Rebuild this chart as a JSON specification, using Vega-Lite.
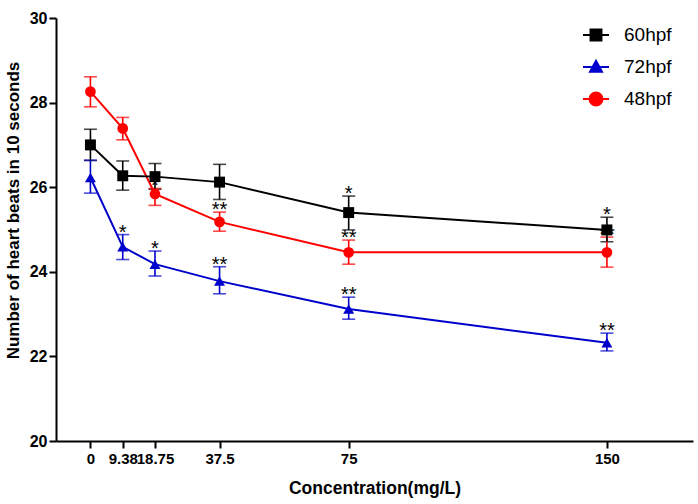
{
  "$schema": "https://vega.github.io/schema/vega-lite/v6.json",
  "width": 637,
  "height": 423,
  "autosize": {"type": "none"},
  "padding": {"left": 56, "top": 18, "right": 5, "bottom": 63},
  "background": "white",
  "data": {
    "values": [
      {"conc": 0, "group": "72hpf", "mean": 26.23, "lo": 25.86, "hi": 26.64, "sig": ""},
      {"conc": 9.38, "group": "72hpf", "mean": 24.59, "lo": 24.29, "hi": 24.88, "sig": "*"},
      {"conc": 18.75, "group": "72hpf", "mean": 24.18, "lo": 23.9, "hi": 24.49, "sig": "*"},
      {"conc": 37.5, "group": "72hpf", "mean": 23.78, "lo": 23.48, "hi": 24.12, "sig": "**"},
      {"conc": 75, "group": "72hpf", "mean": 23.12, "lo": 22.88, "hi": 23.4, "sig": "**"},
      {"conc": 150, "group": "72hpf", "mean": 22.32, "lo": 22.13, "hi": 22.55, "sig": "**"},
      {"conc": 0, "group": "48hpf", "mean": 28.26, "lo": 27.9, "hi": 28.61, "sig": ""},
      {"conc": 9.38, "group": "48hpf", "mean": 27.39, "lo": 27.12, "hi": 27.65, "sig": ""},
      {"conc": 18.75, "group": "48hpf", "mean": 25.84, "lo": 25.57, "hi": 25.97, "sig": "*"},
      {"conc": 37.5, "group": "48hpf", "mean": 25.18, "lo": 24.96, "hi": 25.41, "sig": "**"},
      {"conc": 75, "group": "48hpf", "mean": 24.46, "lo": 24.18, "hi": 24.75, "sig": "**"},
      {"conc": 150, "group": "48hpf", "mean": 24.46, "lo": 24.11, "hi": 24.82, "sig": "**"},
      {"conc": 0, "group": "60hpf", "mean": 27.0, "lo": 26.63, "hi": 27.37, "sig": ""},
      {"conc": 9.38, "group": "60hpf", "mean": 26.27, "lo": 25.93, "hi": 26.62, "sig": ""},
      {"conc": 18.75, "group": "60hpf", "mean": 26.25, "lo": 25.95, "hi": 26.56, "sig": ""},
      {"conc": 37.5, "group": "60hpf", "mean": 26.12, "lo": 25.71, "hi": 26.54, "sig": ""},
      {"conc": 75, "group": "60hpf", "mean": 25.4, "lo": 24.99, "hi": 25.79, "sig": "*"},
      {"conc": 150, "group": "60hpf", "mean": 24.99, "lo": 24.71, "hi": 25.29, "sig": "*"}
    ]
  },
  "encoding": {
    "x": {
      "field": "conc",
      "type": "quantitative",
      "title": "Concentration(mg/L)",
      "scale": {"domain": [-10, 175], "nice": false, "zero": false},
      "axis": {
        "values": [0, 9.38, 18.75, 37.5, 75, 150],
        "labelExpr": "'' + datum.value",
        "labelOverlap": false,
        "labelFontSize": 15,
        "labelPadding": 3,
        "titlePadding": 13,
        "titleFontSize": 17.5
      }
    }
  },
  "layer": [
    {
      "mark": {"type": "point", "filled": true, "opacity": 0},
      "encoding": {
        "y": {
          "field": "mean",
          "type": "quantitative",
          "title": "Number of heart beats in 10 seconds",
          "scale": {"domain": [20, 30], "nice": false, "zero": false},
          "axis": {
            "values": [20, 22, 24, 26, 28, 30],
            "labelPadding": 2,
            "titlePadding": 7,
            "titleFontSize": 17,
            "titleY": 192
          }
        },
        "fill": {
          "field": "group",
          "type": "nominal",
          "scale": {"domain": ["60hpf", "72hpf", "48hpf"], "range": ["#000000", "#0000cc", "#ff0000"]},
          "legend": {"title": null}
        },
        "stroke": {
          "field": "group",
          "type": "nominal",
          "scale": {"domain": ["60hpf", "72hpf", "48hpf"], "range": ["#000000", "#0000cc", "#ff0000"]},
          "legend": {"title": null}
        },
        "shape": {
          "field": "group",
          "type": "nominal",
          "scale": {
            "domain": ["60hpf", "72hpf", "48hpf"],
            "range": [
              "M-1,0H1M-0.42,-0.42H0.42V0.42H-0.42Z",
              "M-1,0H1M0,-0.48L0.46,0.36H-0.46Z",
              "M-1,0H1M-0.5,0A0.5,0.5 0 1,1 0.5,0A0.5,0.5 0 1,1 -0.5,0Z"
            ]
          },
          "legend": {"title": null}
        }
      }
    },
    {
      "mark": {"type": "errorbar", "ticks": {"size": 13}, "thickness": 1.6},
      "encoding": {
        "y": {"field": "lo", "type": "quantitative", "title": "Number of heart beats in 10 seconds"},
        "y2": {"field": "hi"},
        "color": {
          "field": "group",
          "type": "nominal",
          "scale": {"domain": ["60hpf", "72hpf", "48hpf"], "range": ["#000000", "#0000cc", "#ff0000"]},
          "legend": null
        }
      }
    },
    {
      "mark": {"type": "text", "font": "Liberation Sans", "fontSize": 20, "baseline": "alphabetic", "dy": 4, "color": "#000000"},
      "encoding": {
        "y": {"field": "hi", "type": "quantitative", "title": "Number of heart beats in 10 seconds"},
        "text": {"field": "sig"}
      }
    },
    {
      "mark": {"type": "line", "strokeWidth": 2},
      "encoding": {
        "y": {"field": "mean", "type": "quantitative", "title": "Number of heart beats in 10 seconds"},
        "color": {
          "field": "group",
          "type": "nominal",
          "scale": {"domain": ["60hpf", "72hpf", "48hpf"], "range": ["#000000", "#0000cc", "#ff0000"]},
          "legend": null
        }
      }
    },
    {
      "transform": [{"filter": {"field": "group", "equal": "72hpf"}}],
      "mark": {"type": "point", "filled": true, "opacity": 1, "shape": "triangle-up", "size": 120, "color": "#0000cc"},
      "encoding": {
        "y": {"field": "mean", "type": "quantitative", "title": "Number of heart beats in 10 seconds"}
      }
    },
    {
      "transform": [{"filter": {"field": "group", "equal": "48hpf"}}],
      "mark": {"type": "point", "filled": true, "opacity": 1, "shape": "circle", "size": 115, "color": "#ff0000"},
      "encoding": {
        "y": {"field": "mean", "type": "quantitative", "title": "Number of heart beats in 10 seconds"}
      }
    },
    {
      "transform": [{"filter": {"field": "group", "equal": "60hpf"}}],
      "mark": {"type": "point", "filled": true, "opacity": 1, "shape": "square", "size": 120, "color": "#000000"},
      "encoding": {
        "y": {"field": "mean", "type": "quantitative", "title": "Number of heart beats in 10 seconds"}
      }
    }
  ],
  "config": {
    "view": {"stroke": null},
    "legend": {
      "orient": "none",
      "legendX": 526,
      "legendY": 3,
      "padding": 0,
      "rowPadding": 8,
      "labelOffset": 14,
      "labelFont": "Liberation Sans",
      "labelFontSize": 19,
      "labelFontWeight": "normal",
      "labelColor": "#000000",
      "symbolSize": 676,
      "symbolStrokeWidth": 2,
      "symbolOpacity": 1
    },
    "axis": {
      "grid": false,
      "domainColor": "#000000",
      "domainWidth": 2,
      "tickColor": "#000000",
      "tickWidth": 2,
      "tickSize": 7,
      "labelFont": "Liberation Sans",
      "labelFontSize": 16,
      "labelFontWeight": "bold",
      "labelColor": "#000000",
      "titleFont": "Liberation Sans",
      "titleFontWeight": "bold",
      "titleColor": "#000000"
    }
  }
}
